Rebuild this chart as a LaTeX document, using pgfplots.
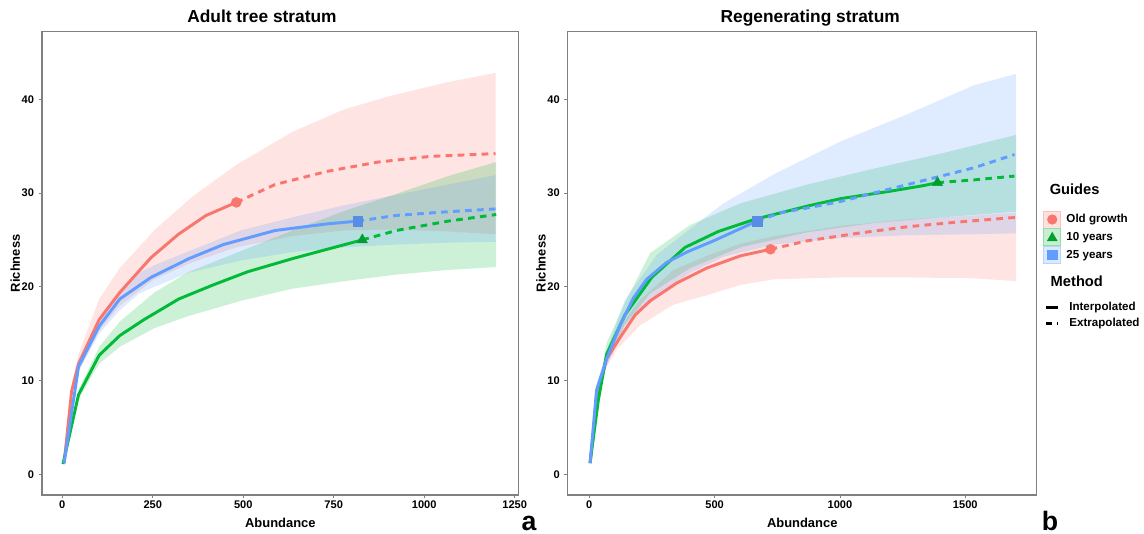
\documentclass[border=0pt]{standalone}
\usepackage{fontspec}
\setmainfont{Liberation Sans}
\usepackage{pgfplots}
\pgfplotsset{compat=1.18}
\usepackage{pgfplotstable}
\usepgfplotslibrary{fillbetween}

\definecolor{ogr}{HTML}{F8766D}
\definecolor{ten}{HTML}{00BA38}
\definecolor{tfy}{HTML}{619CFF}

% ---- adult tree stratum: x lo hi ----
\pgfplotstableread{
x lo hi
5 1.2 1.2
26 8.4 9.6
45 11.0 12.8
102 15.3 18.7
159 18.0 22.0
254 20.8 26.0
359 22.6 29.6
481 24.2 33.0
635 25.4 36.5
778 26.0 38.9
902 26.1 40.3
1063 25.9 41.8
1197 25.6 42.8
}\aRed
\pgfplotstableread{
x lo hi
2 1.1 1.1
45 8.0 9.0
102 11.8 13.6
159 13.6 16.3
255 15.6 19.4
350 16.9 21.6
493 18.5 23.8
636 19.8 26.0
780 20.6 28.1
923 21.3 29.9
1066 21.8 31.8
1199 22.1 33.3
}\aGreen
\pgfplotstableread{
x lo hi
5 1.2 1.2
45 11.0 12.0
102 15.0 16.6
159 17.5 19.4
213 19.3 21.5
255 20.0 22.3
350 21.5 23.8
493 22.8 26.0
636 23.7 27.4
780 24.2 28.7
923 24.5 29.8
1066 24.7 30.9
1197 24.8 31.9
}\aBlue

% ---- regenerating stratum: x lo hi ----
\pgfplotstableread{
x lo hi
3 1.2 1.2
36 8.5 9.5
69 11.5 13.0
109 13.3 15.3
203 15.9 18.6
336 18.1 21.8
469 19.1 23.3
603 20.2 24.6
736 20.8 25.4
1003 21.0 26.5
1269 21.0 27.2
1536 20.9 27.6
1703 20.6 27.9
}\bRed
\pgfplotstableread{
x lo hi
3 1.2 1.2
36 7.5 8.5
69 12.3 14.0
142 16.0 18.3
243 19.3 23.6
403 22.0 26.6
603 24.2 28.9
869 25.8 30.9
1136 26.8 32.6
1403 27.4 34.2
1703 28.0 36.2
}\bGreen
\pgfplotstableread{
x lo hi
3 1.2 1.2
29 8.5 9.5
69 11.5 13.2
142 15.8 18.6
269 19.0 23.4
403 21.5 26.2
536 23.2 28.9
736 24.5 32.0
1003 25.2 35.5
1269 25.5 38.4
1536 25.6 41.5
1703 25.7 42.7
}\bBlue

\pgfplotsset{
  panel/.style={
    scale only axis, height=347.5pt, ymin=-2.2, ymax=47.2,
    clip mode=individual,
    axis line style={black!50, line width=0.9pt},
    tick align=outside, major tick length=2.5pt,
    tick style={black!50, line width=0.6pt},
    xtick pos=bottom, ytick pos=left,
    ytick={0,10,20,30,40},
    scaled ticks=false,
    /pgf/number format/set thousands separator={},
    /pgf/number format/assume math mode=true,
    ticklabel style={font=\bfseries\fontsize{8.3}{10}\selectfont, black},
    xticklabel style={yshift=2pt},
    label style={font=\bfseries\fontsize{9.7}{11}\selectfont},
    title style={font=\bfseries\fontsize{13}{15}\selectfont, anchor=base, yshift=0.8pt},
    xlabel=Abundance, ylabel=Richness,
    xlabel style={at={(axis description cs:0.5,0)}, anchor=base, yshift=-24pt},
  },
  interp/.style={line width=2.2pt, forget plot},
  extrap/.style={line width=2.2pt, dash pattern=on 5pt off 4pt, forget plot},
  band/.style={draw=none, fill opacity=0.2, forget plot},
  edge/.style={draw=none, forget plot},
}
\tikzset{tag/.style={anchor=base, inner sep=0pt, outer sep=0pt, yshift=-26.5pt, font=\bfseries\fontsize{20}{20}\selectfont}}

\begin{document}
\begin{tikzpicture}
% ================= a: adult tree stratum =================
\begin{axis}[panel, width=357.5pt, at={(0pt,0pt)}, anchor=south west,
  xmin=-56, xmax=1261, xtick={0,250,500,750,1000,1250},
  title={Adult tree stratum},
  title style={at={(axis description cs:0.4615,1)}},
  ylabel style={at={(axis description cs:-0.0462,0.5)}, anchor=base},
  legend style={at={(axis description cs:2.104,0.4214)}, anchor=north west,
    draw=none, fill=none, inner sep=0pt, outer sep=0pt, row sep=0pt, column sep=7.5pt,
    nodes={inner sep=0pt, font=\bfseries\fontsize{8.7}{10}\selectfont}},
  legend cell align=left,
]
\addplot[edge, name path=aRu] table[x=x, y=hi] {\aRed};
\addplot[edge, name path=aRl] table[x=x, y=lo] {\aRed};
\addplot[band, fill=ogr] fill between[of=aRu and aRl];
\addplot[edge, name path=aGu] table[x=x, y=hi] {\aGreen};
\addplot[edge, name path=aGl] table[x=x, y=lo] {\aGreen};
\addplot[band, fill=ten] fill between[of=aGu and aGl];
\addplot[edge, name path=aBu] table[x=x, y=hi] {\aBlue};
\addplot[edge, name path=aBl] table[x=x, y=lo] {\aBlue};
\addplot[band, fill=tfy] fill between[of=aBu and aBl];

% old growth
\addplot[interp, ogr] coordinates {(5,1.2) (26,8.9) (45,11.8) (102,16.5) (159,19.4) (245,23.1) (321,25.6) (397,27.6) (481,29.0)};
\addplot[extrap, ogr] coordinates {(481,29.0) (588,30.9) (731,32.3) (873,33.3) (1016,33.9) (1197,34.2)};
% 10 years
\addplot[interp, ten] coordinates {(2,1.1) (45,8.5) (102,12.7) (159,14.8) (226,16.5) (322,18.7) (417,20.2) (512,21.6) (636,23.0) (732,24.0) (829,25.0)};
\addplot[extrap, ten] coordinates {(829,25.0) (923,26.0) (1066,27.0) (1199,27.7)};
% 25 years
\addplot[interp, tfy] coordinates {(5,1.2) (45,11.5) (102,15.8) (159,18.7) (245,21.0) (350,23.0) (445,24.5) (588,26.0) (731,26.7) (816,27.0)};
\addplot[extrap, tfy] coordinates {(816,27.0) (921,27.6) (1064,28.0) (1197,28.3)};

\addplot[only marks, forget plot, mark=*, mark size=3.75pt, ogr] coordinates {(481,29.0)};
\addplot[only marks, forget plot, mark=triangle*, mark size=4.4pt, ten!85!black] coordinates {(829,25.0)};
\addplot[only marks, forget plot, mark=square*, mark size=3.6pt, tfy!90!black] coordinates {(816,27.0)};

% method legend
\addlegendimage{legend image code/.code={\path[draw=none, fill=none] (0pt,-6pt) rectangle (8.8pt,6pt); \draw[black, line width=2pt] (0pt,0pt) -- (8.8pt,0pt);}}
\addlegendentry{Interpolated}
\addlegendimage{legend image code/.code={\path[draw=none, fill=none] (0pt,-6pt) rectangle (8.8pt,6pt); \draw[black, line width=2pt, dash pattern=on 4.5pt off 3.5pt] (0pt,0pt) -- (8.8pt,0pt);}}
\addlegendentry{Extrapolated}

\node[tag] at (axis description cs:1.0216,0) {a};
\end{axis}

% ================= b: regenerating stratum =================
\begin{axis}[panel, width=351.75pt, at={(394.3pt,0pt)}, anchor=south west,
  xmin=-86, xmax=1785, xtick={0,500,1000,1500},
  title={Regenerating stratum},
  title style={at={(axis description cs:0.517,1)}},
  ylabel style={at={(axis description cs:-0.0469,0.5)}, anchor=base},
  legend style={at={(axis description cs:1.0141,0.6138)}, anchor=north west,
    draw=none, fill=none, inner sep=0pt, outer sep=0pt, row sep=0pt, column sep=4pt,
    nodes={inner sep=0pt, font=\bfseries\fontsize{8.7}{10}\selectfont}},
  legend cell align=left,
]
\addplot[edge, name path=bRu] table[x=x, y=hi] {\bRed};
\addplot[edge, name path=bRl] table[x=x, y=lo] {\bRed};
\addplot[band, fill=ogr] fill between[of=bRu and bRl];
\addplot[edge, name path=bGu] table[x=x, y=hi] {\bGreen};
\addplot[edge, name path=bGl] table[x=x, y=lo] {\bGreen};
\addplot[band, fill=ten] fill between[of=bGu and bGl];
\addplot[edge, name path=bBu] table[x=x, y=hi] {\bBlue};
\addplot[edge, name path=bBl] table[x=x, y=lo] {\bBlue};
\addplot[band, fill=tfy] fill between[of=bBu and bBl];

% old growth
\addplot[interp, ogr] coordinates {(3,1.2) (36,9.0) (69,12.3) (123,14.6) (183,17.0) (243,18.5) (349,20.4) (469,22.0) (603,23.3) (723,24.0)};
\addplot[extrap, ogr] coordinates {(723,24.0) (869,24.9) (1069,25.7) (1269,26.4) (1469,26.9) (1703,27.4)};
% 10 years
\addplot[interp, ten] coordinates {(3,1.2) (36,7.9) (69,12.8) (142,17.0) (249,21.0) (382,24.2) (515,25.9) (661,27.2) (736,27.7) (869,28.6) (1003,29.4) (1203,30.2) (1336,30.8) (1389,31.1)};
\addplot[extrap, ten] coordinates {(1389,31.1) (1536,31.4) (1696,31.8)};
% 25 years
\addplot[interp, tfy] coordinates {(3,1.2) (29,9.0) (69,12.3) (123,15.9) (176,18.8) (229,20.8) (309,22.6) (389,23.7) (496,24.9) (603,26.2) (669,27.0)};
\addplot[extrap, tfy] coordinates {(669,27.0) (763,27.9) (869,28.4) (1003,29.1) (1136,30.0) (1269,30.9) (1403,31.8) (1536,32.7) (1696,34.1)};

\addplot[only marks, forget plot, mark=*, mark size=3.75pt, ogr] coordinates {(723,24.0)};
\addplot[only marks, forget plot, mark=triangle*, mark size=4.4pt, ten!85!black] coordinates {(1389,31.1)};
\addplot[only marks, forget plot, mark=square*, mark size=3.6pt, tfy!90!black] coordinates {(669,27.0)};

% guides legend
\addlegendimage{legend image code/.code={\draw[draw=ogr!45, fill=ogr!22, line width=0.6pt] (0pt,-6.375pt) rectangle (12.75pt,6.375pt); \draw[ogr, mark=*, mark size=3.6pt] plot coordinates {(6.375pt,0pt)};}}
\addlegendentry{Old growth}
\addlegendimage{legend image code/.code={\draw[draw=ten!45, fill=ten!22, line width=0.6pt] (0pt,-6.375pt) rectangle (12.75pt,6.375pt); \draw[ten!85!black, mark=triangle*, mark size=4.2pt] plot coordinates {(6.375pt,-0.5pt)};}}
\addlegendentry{10 years}
\addlegendimage{legend image code/.code={\draw[draw=tfy!45, fill=tfy!22, line width=0.6pt] (0pt,-6.375pt) rectangle (12.75pt,6.375pt); \draw[tfy, mark=square*, mark size=3.4pt] plot coordinates {(6.375pt,0pt)};}}
\addlegendentry{25 years}

\node[anchor=base west, font=\bfseries\fontsize{11}{13}\selectfont] at (axis description cs:1.0177,0.6494) {Guides};
\node[anchor=base west, font=\bfseries\fontsize{11}{13}\selectfont] at (axis description cs:1.0198,0.4503) {Method};
\node[tag] at (axis description cs:1.0284,0) {b};
\end{axis}
\pgfresetboundingbox
\path[use as bounding box] (-31.5pt,-28.5pt) rectangle (826.5pt,371.25pt);
\end{tikzpicture}
\end{document}
